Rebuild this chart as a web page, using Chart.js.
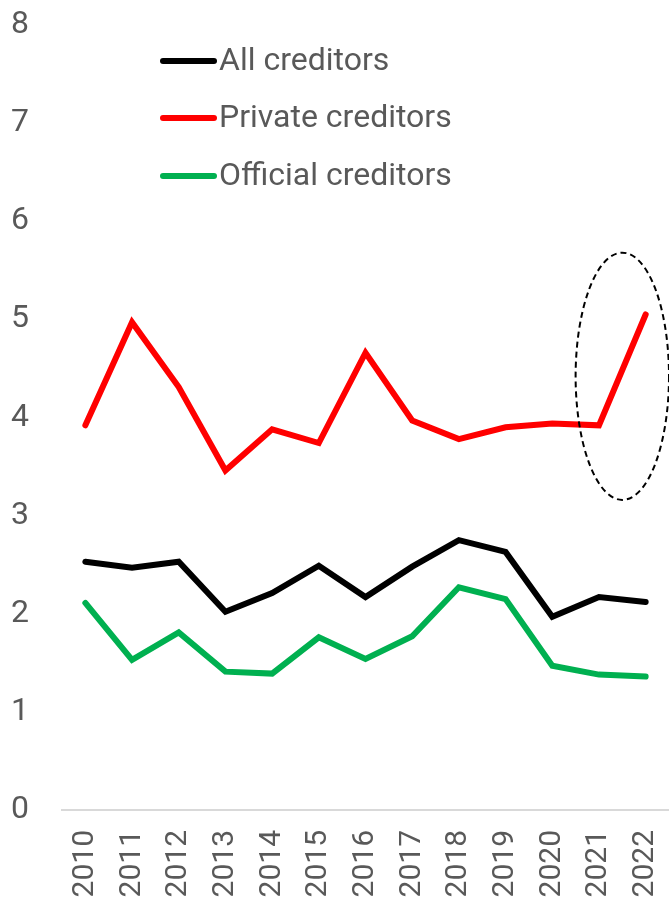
<!DOCTYPE html>
<html>
<head>
<meta charset="utf-8">
<script src="https://cdn.jsdelivr.net/npm/chart.js@4"></script>
<style>
  html, body { margin: 0; padding: 0; background: #fff; }
  #wrap { width: 669px; height: 905px; position: relative; }
</style>
</head>
<body>
<div id="wrap"><canvas id="chart"></canvas></div>
<script>
// --- Data ---
const years = ['2010', '2011', '2012', '2013', '2014', '2015', '2016', '2017', '2018', '2019', '2020', '2021', '2022'];
const allCreditors = [2.53, 2.47, 2.53, 2.02, 2.21, 2.49, 2.17, 2.48, 2.75, 2.63, 1.97, 2.17, 2.12];
const privateCreditors = [3.92, 4.97, 4.31, 3.46, 3.88, 3.74, 4.66, 3.97, 3.78, 3.90, 3.94, 3.92, 5.05];
const officialCreditors = [2.11, 1.53, 1.81, 1.41, 1.39, 1.76, 1.54, 1.77, 2.27, 2.15, 1.47, 1.38, 1.36];
const yTicks = [0, 1, 2, 3, 4, 5, 6, 7, 8];

// highlight ellipse around the 2021-2022 jump (category index / value units)
const highlight = { x: 11.5, y: 4.42, rx: 1.0, ry: 1.26 };

const TEXT_COLOR = '#595959';
const FONT = 'Roboto, "Noto Sans", sans-serif';

// --- Plugins ---
const ellipsePlugin = {
    id: 'ellipse',
    afterDatasetsDraw(chart) {
        const { ctx, scales: { x, y } } = chart;
        const cx = x.getPixelForValue(highlight.x);
        const cy = y.getPixelForValue(highlight.y);
        const rx = Math.abs(x.getPixelForValue(highlight.x + highlight.rx) - cx);
        const ry = Math.abs(y.getPixelForValue(highlight.y + highlight.ry) - cy);
        ctx.save();
        ctx.beginPath();
        ctx.ellipse(cx, cy, rx, ry, 0, 0, Math.PI * 2);
        ctx.setLineDash([6, 4]);
        ctx.lineWidth = 2;
        ctx.strokeStyle = '#000';
        ctx.stroke();
        ctx.restore();
    }
};

// vertical legend drawn inside the plot area
const legendPlugin = {
    id: 'innerLegend',
    afterDraw(chart) {
        const { ctx } = chart;
        const x0 = 163, x1 = 214, rowY = [61, 118, 176];
        ctx.save();
        ctx.font = '32px ' + FONT;
        ctx.textBaseline = 'middle';
        chart.data.datasets.forEach((ds, i) => {
            ctx.beginPath();
            ctx.moveTo(x0, rowY[i]);
            ctx.lineTo(x1, rowY[i]);
            ctx.lineWidth = 6;
            ctx.lineCap = 'round';
            ctx.strokeStyle = ds.borderColor;
            ctx.stroke();
            ctx.fillStyle = TEXT_COLOR;
            ctx.fillText(ds.label, x1 + 5, rowY[i] + 1);
        });
        ctx.restore();
    }
};

const lineStyle = (label, data, color) => ({
    label: label,
    data: data,
    borderColor: color,
    backgroundColor: color,
    borderWidth: 6,
    borderCapStyle: 'round',
    borderJoinStyle: 'miter',
    pointRadius: 0,
    tension: 0,
    fill: false
});

new Chart(document.getElementById('chart'), {
    type: 'line',
    data: {
        labels: years,
        datasets: [
            lineStyle('All creditors', allCreditors, '#000000'),
            lineStyle('Private creditors', privateCreditors, '#ff0000'),
            lineStyle('Official creditors', officialCreditors, '#00b050')
        ]
    },
    options: {
        responsive: true,
        maintainAspectRatio: false,
        animation: false,
        layout: { padding: { left: 0, top: 25, right: 0, bottom: 0 } },
        scales: {
            x: {
                offset: true,
                grid: { display: false, drawTicks: false },
                border: { display: true, color: '#d9d9d9', width: 2 },
                ticks: {
                    color: TEXT_COLOR,
                    font: { family: FONT, size: 30 },
                    minRotation: 90,
                    maxRotation: 90,
                    padding: 20
                },
                afterFit(axis) {
                    axis.height = 95;
                    axis.paddingLeft = 0;
                    axis.paddingRight = 0;
                }
            },
            y: {
                min: 0,
                max: 8,
                afterBuildTicks(axis) { axis.ticks = yTicks.map(v => ({ value: v })); },
                grid: { display: false, drawTicks: false },
                border: { display: false },
                ticks: {
                    color: TEXT_COLOR,
                    font: { family: FONT, size: 32 },
                    padding: 33
                },
                afterFit(axis) {
                    axis.width = 62;
                    axis.paddingTop = 0;
                    axis.paddingBottom = 0;
                }
            }
        },
        plugins: {
            legend: { display: false },
            tooltip: { enabled: false }
        }
    },
    plugins: [ellipsePlugin, legendPlugin]
});
</script>
</body>
</html>
